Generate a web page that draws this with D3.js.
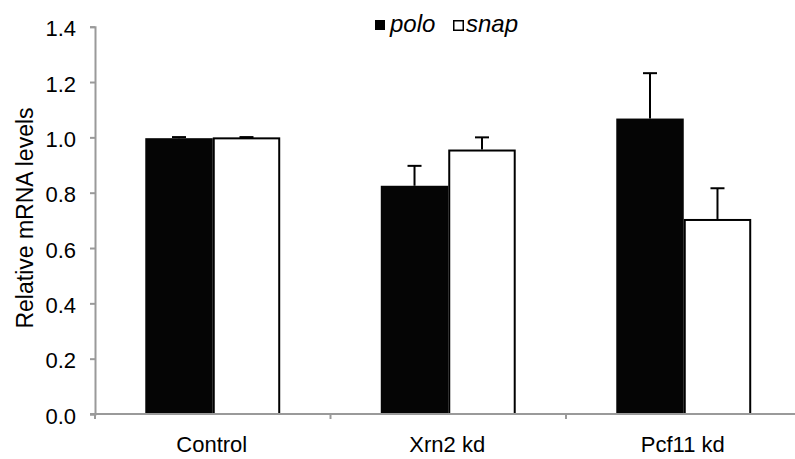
<!DOCTYPE html>
<html><head><meta charset="utf-8">
<script src="https://cdn.jsdelivr.net/npm/d3@7"></script>
<style>body{margin:0;background:#fff}svg{display:block}text{font-family:"Liberation Sans",Arial,Helvetica,sans-serif}</style>
</head><body>
<svg id="c" width="795" height="459"></svg>
<script>
const categories = ["Control", "Xrn2 kd", "Pcf11 kd"];
const series = ["polo", "snap"];
const poloValues = [0.997, 0.825, 1.068];
const poloErrors = [0.004, 0.072, 0.164];
const snapValues = [1.0, 0.956, 0.705];
const snapErrors = [0.001, 0.044, 0.111];
const yTicks = [0, 0.2, 0.4, 0.6, 0.8, 1.0, 1.2, 1.4];

(function () {
const svg = d3.select("#c");
const mLeft = 95, mRight = 801.5, mTop = 26.7, mBottom = 414;
const x = d3.scaleBand().domain(categories).range([mLeft, mRight]).paddingInner(0.427).paddingOuter(0.2135);
const xs = d3.scaleBand().domain(series).range([0, x.bandwidth()]);
const y = d3.scaleLinear().domain([0, 1.4]).range([mBottom, mTop]);
const axisColor = "#9a9a9a";
const fs = 22;

// y axis
const ya = svg.append("g").attr("transform", `translate(${mLeft},0)`)
  .call(d3.axisLeft(y).tickValues(yTicks).tickFormat(d3.format(".1f")).tickSizeOuter(0).tickSize(5).tickPadding(14));
ya.select(".domain").attr("stroke", axisColor).attr("stroke-width", 2);
ya.selectAll(".tick line").attr("stroke", axisColor).attr("stroke-width", 2);
ya.selectAll(".tick text").attr("font-size", fs).attr("fill", "#000").attr("dy", "0.42em")
  .attr("font-family", '"Liberation Sans",Arial,sans-serif');

// bars
const data = categories.map((c, i) => ({c, vals: [
  {s: "polo", v: poloValues[i], e: poloErrors[i]},
  {s: "snap", v: snapValues[i], e: snapErrors[i]}]}));
const g = svg.append("g").selectAll("g").data(data).join("g")
  .attr("transform", d => `translate(${x(d.c)},0)`);
g.selectAll("line.err").data(d => d.vals).join("line").attr("class", "err")
  .attr("x1", d => xs(d.s) + xs.bandwidth() / 2).attr("x2", d => xs(d.s) + xs.bandwidth() / 2)
  .attr("y1", d => y(d.v)).attr("y2", d => y(d.v + d.e))
  .attr("stroke", "#000").attr("stroke-width", 2);
g.selectAll("line.cap").data(d => d.vals).join("line").attr("class", "cap")
  .attr("x1", d => xs(d.s) + xs.bandwidth() / 2 - 7).attr("x2", d => xs(d.s) + xs.bandwidth() / 2 + 7)
  .attr("y1", d => y(d.v + d.e)).attr("y2", d => y(d.v + d.e))
  .attr("stroke", "#000").attr("stroke-width", 2);
g.selectAll("rect").data(d => d.vals).join("rect")
  .attr("x", d => xs(d.s) + (d.s === "snap" ? 1 : 0))
  .attr("width", d => xs.bandwidth() - (d.s === "snap" ? 2 : 0))
  .attr("y", d => y(d.v) + (d.s === "snap" ? 1 : 0))
  .attr("height", d => mBottom - y(d.v) - (d.s === "snap" ? 1 : 0))
  .attr("fill", d => d.s === "polo" ? "#050505" : "#fff")
  .attr("stroke", d => d.s === "polo" ? "none" : "#000")
  .attr("stroke-width", 2);

// x axis
const xTick = d3.scaleLinear().domain([0, categories.length]).range([mLeft, mRight]);
const xa = svg.append("g").attr("transform", `translate(0,${mBottom})`);
xa.append("line").attr("x1", mLeft - 5).attr("x2", mRight).attr("y1", 0).attr("y2", 0)
  .attr("stroke", axisColor).attr("stroke-width", 2);
xa.selectAll("line.t").data(d3.range(categories.length + 1)).join("line").attr("class", "t")
  .attr("x1", d => xTick(d)).attr("x2", d => xTick(d)).attr("y1", 0).attr("y2", 5)
  .attr("stroke", axisColor).attr("stroke-width", 2);
xa.selectAll("text").data(categories).join("text")
  .attr("x", d => x(d) + x.bandwidth() / 2 - 1).attr("y", 38)
  .attr("text-anchor", "middle").attr("font-size", fs).text(d => d);

// y title
svg.append("text").attr("transform", `translate(33,218) rotate(-90)`)
  .attr("text-anchor", "middle").attr("font-size", 23).text("Relative mRNA levels");

// legend
const leg = svg.append("g").attr("transform", "translate(375,20)");
leg.append("rect").attr("x", 0).attr("y", 0).attr("width", 10).attr("height", 10).attr("fill", "#000");
leg.append("text").attr("x", 15).attr("y", 12).attr("font-size", 24).attr("font-style", "italic").text(series[0]);
leg.append("rect").attr("x", 78.75).attr("y", 0.75).attr("width", 9.5).attr("height", 9.5).attr("fill", "#fff").attr("stroke", "#000").attr("stroke-width", 1.5);
leg.append("text").attr("x", 91).attr("y", 12).attr("font-size", 24).attr("font-style", "italic").text(series[1]);
})();
</script>
</body></html>
